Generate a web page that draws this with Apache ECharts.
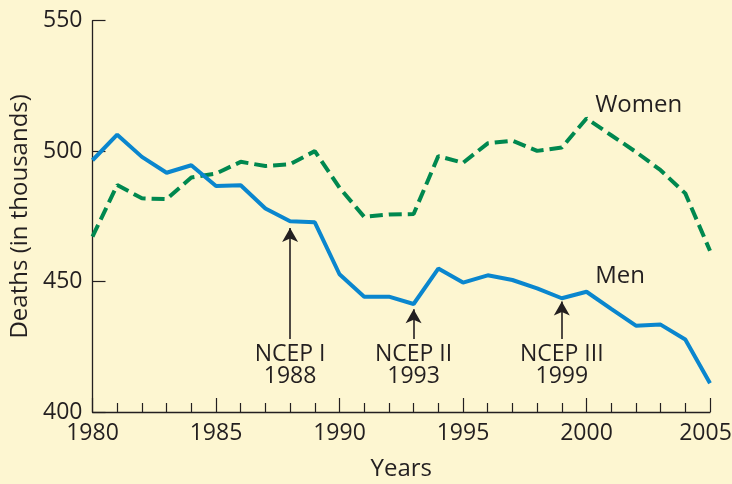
<!DOCTYPE html>
<html>
<head>
<meta charset="utf-8">
<script src="https://cdn.jsdelivr.net/npm/echarts@6/dist/echarts.min.js"></script>
<style>
html,body{margin:0;padding:0;background:#FDF6D1;overflow:hidden;width:732px;height:484px;}
#c{position:absolute;left:0;top:0;width:732px;height:484px;}
</style>
</head>
<body>
<div id="c"></div>
<script>
var years = [1980,1981,1982,1983,1984,1985,1986,1987,1988,1989,1990,1991,1992,1993,1994,1995,1996,1997,1998,1999,2000,2001,2002,2003,2004,2005];
var men =   [496.5,506.3,497.8,491.7,494.6,486.6,486.9,478,473.1,472.7,452.8,444.2,444.2,441.4,455,449.6,452.4,450.6,447.4,443.6,446.1,439.5,433.1,433.5,427.8,411];
var women = [467.2,487,481.9,481.6,489.9,491.4,495.9,494.3,495,500,486,474.8,475.7,475.9,498.1,495.5,503,504,500.1,501.4,512.5,506.1,499.7,492.7,483.8,461.8];
var yTicks = [400,450,500,550];
var xTicks = [1980,1985,1990,1995,2000,2005];
var seriesNames = ['Women','Men'];
var seriesLabelAt = [[2000.35,517.6],[2000.35,452]];
var ncepYears = [1988,1993,1999];
var ncepNames = ['NCEP I','NCEP II','NCEP III'];
var arrowTip = [470.5,439.4,442.4];
var arrowBase = 428;

var FONT = '"Open Sans", "Liberation Sans", sans-serif';
var TXT = '#231f20';

function pair(a,b){return a.map(function(v,i){return [v,b[i]];});}
function nameLabel(i){
  return {
    symbolSize:0, silent:true,
    data:[{coord:seriesLabelAt[i],value:seriesNames[i]}],
    label:{show:true,position:'right',distance:0,formatter:seriesNames[i],fontFamily:FONT,fontSize:24,color:TXT}
  };
}

var chart = echarts.init(document.getElementById('c'), null, {renderer:'canvas', width:732, height:484});
var option = {
  backgroundColor:'#FDF6D1',
  animation:false,
  grid:{left:92.5,right:22,top:20.7,bottom:72,containLabel:false,outerBoundsMode:'none'},
  xAxis:{
    type:'value', min:xTicks[0], max:xTicks[xTicks.length-1], interval:5,
    name:'Years', nameLocation:'middle', nameGap:45,
    nameTextStyle:{fontFamily:FONT,fontSize:24,color:TXT},
    axisLine:{lineStyle:{color:TXT,width:1.3}},
    axisTick:{inside:true,length:14,lineStyle:{color:TXT,width:1.2}},
    minorTick:{show:true,splitNumber:5,length:9,lineStyle:{color:TXT,width:1.2}},
    axisLabel:{fontFamily:FONT,fontSize:23,color:TXT,margin:10,hideOverlap:false,showMaxLabel:true,
      formatter:function(v){return v === xTicks[xTicks.length-1] ? '{e|' + v + '}' : String(v);},
      rich:{e:{fontFamily:FONT,fontSize:23,color:TXT,padding:[0,9,0,0]}}},
    splitLine:{show:false}
  },
  yAxis:{
    type:'value', min:yTicks[0], max:yTicks[yTicks.length-1], interval:50,
    name:'Deaths (in thousands)', nameLocation:'middle', nameGap:57,
    nameTextStyle:{fontFamily:FONT,fontSize:24,color:TXT},
    axisLine:{show:true,lineStyle:{color:TXT,width:1.3}},
    axisTick:{show:true,inside:true,length:13,lineStyle:{color:TXT,width:1.2}},
    axisLabel:{fontFamily:FONT,fontSize:23,color:TXT,margin:10},
    splitLine:{show:false}
  },
  series:[
    {
      name:seriesNames[0], type:'line', data:pair(years,women), symbol:'none',
      lineStyle:{color:'#00884F',width:4,type:[13,6]},
      markPoint:nameLabel(0)
    },
    {
      name:seriesNames[1], type:'line', data:pair(years,men), symbol:'none',
      lineStyle:{color:'#0A86CE',width:4},
      markPoint:nameLabel(1),
      markLine:{
        silent:true, symbol:['none','arrow'], symbolSize:[12,14], precision:2,
        lineStyle:{color:TXT,width:1.6,type:'solid'},
        label:{show:true,position:'start',distance:4,fontFamily:FONT,fontSize:23,lineHeight:22,color:TXT,align:'center',
          formatter:function(p){return p.name;}},
        data:ncepYears.map(function(y,i){
          return [{coord:[y,arrowBase],name:ncepNames[i]+'\n'+y},{coord:[y,arrowTip[i]]}];
        })
      }
    }
  ]
};
chart.setOption(option);
</script>
</body>
</html>
